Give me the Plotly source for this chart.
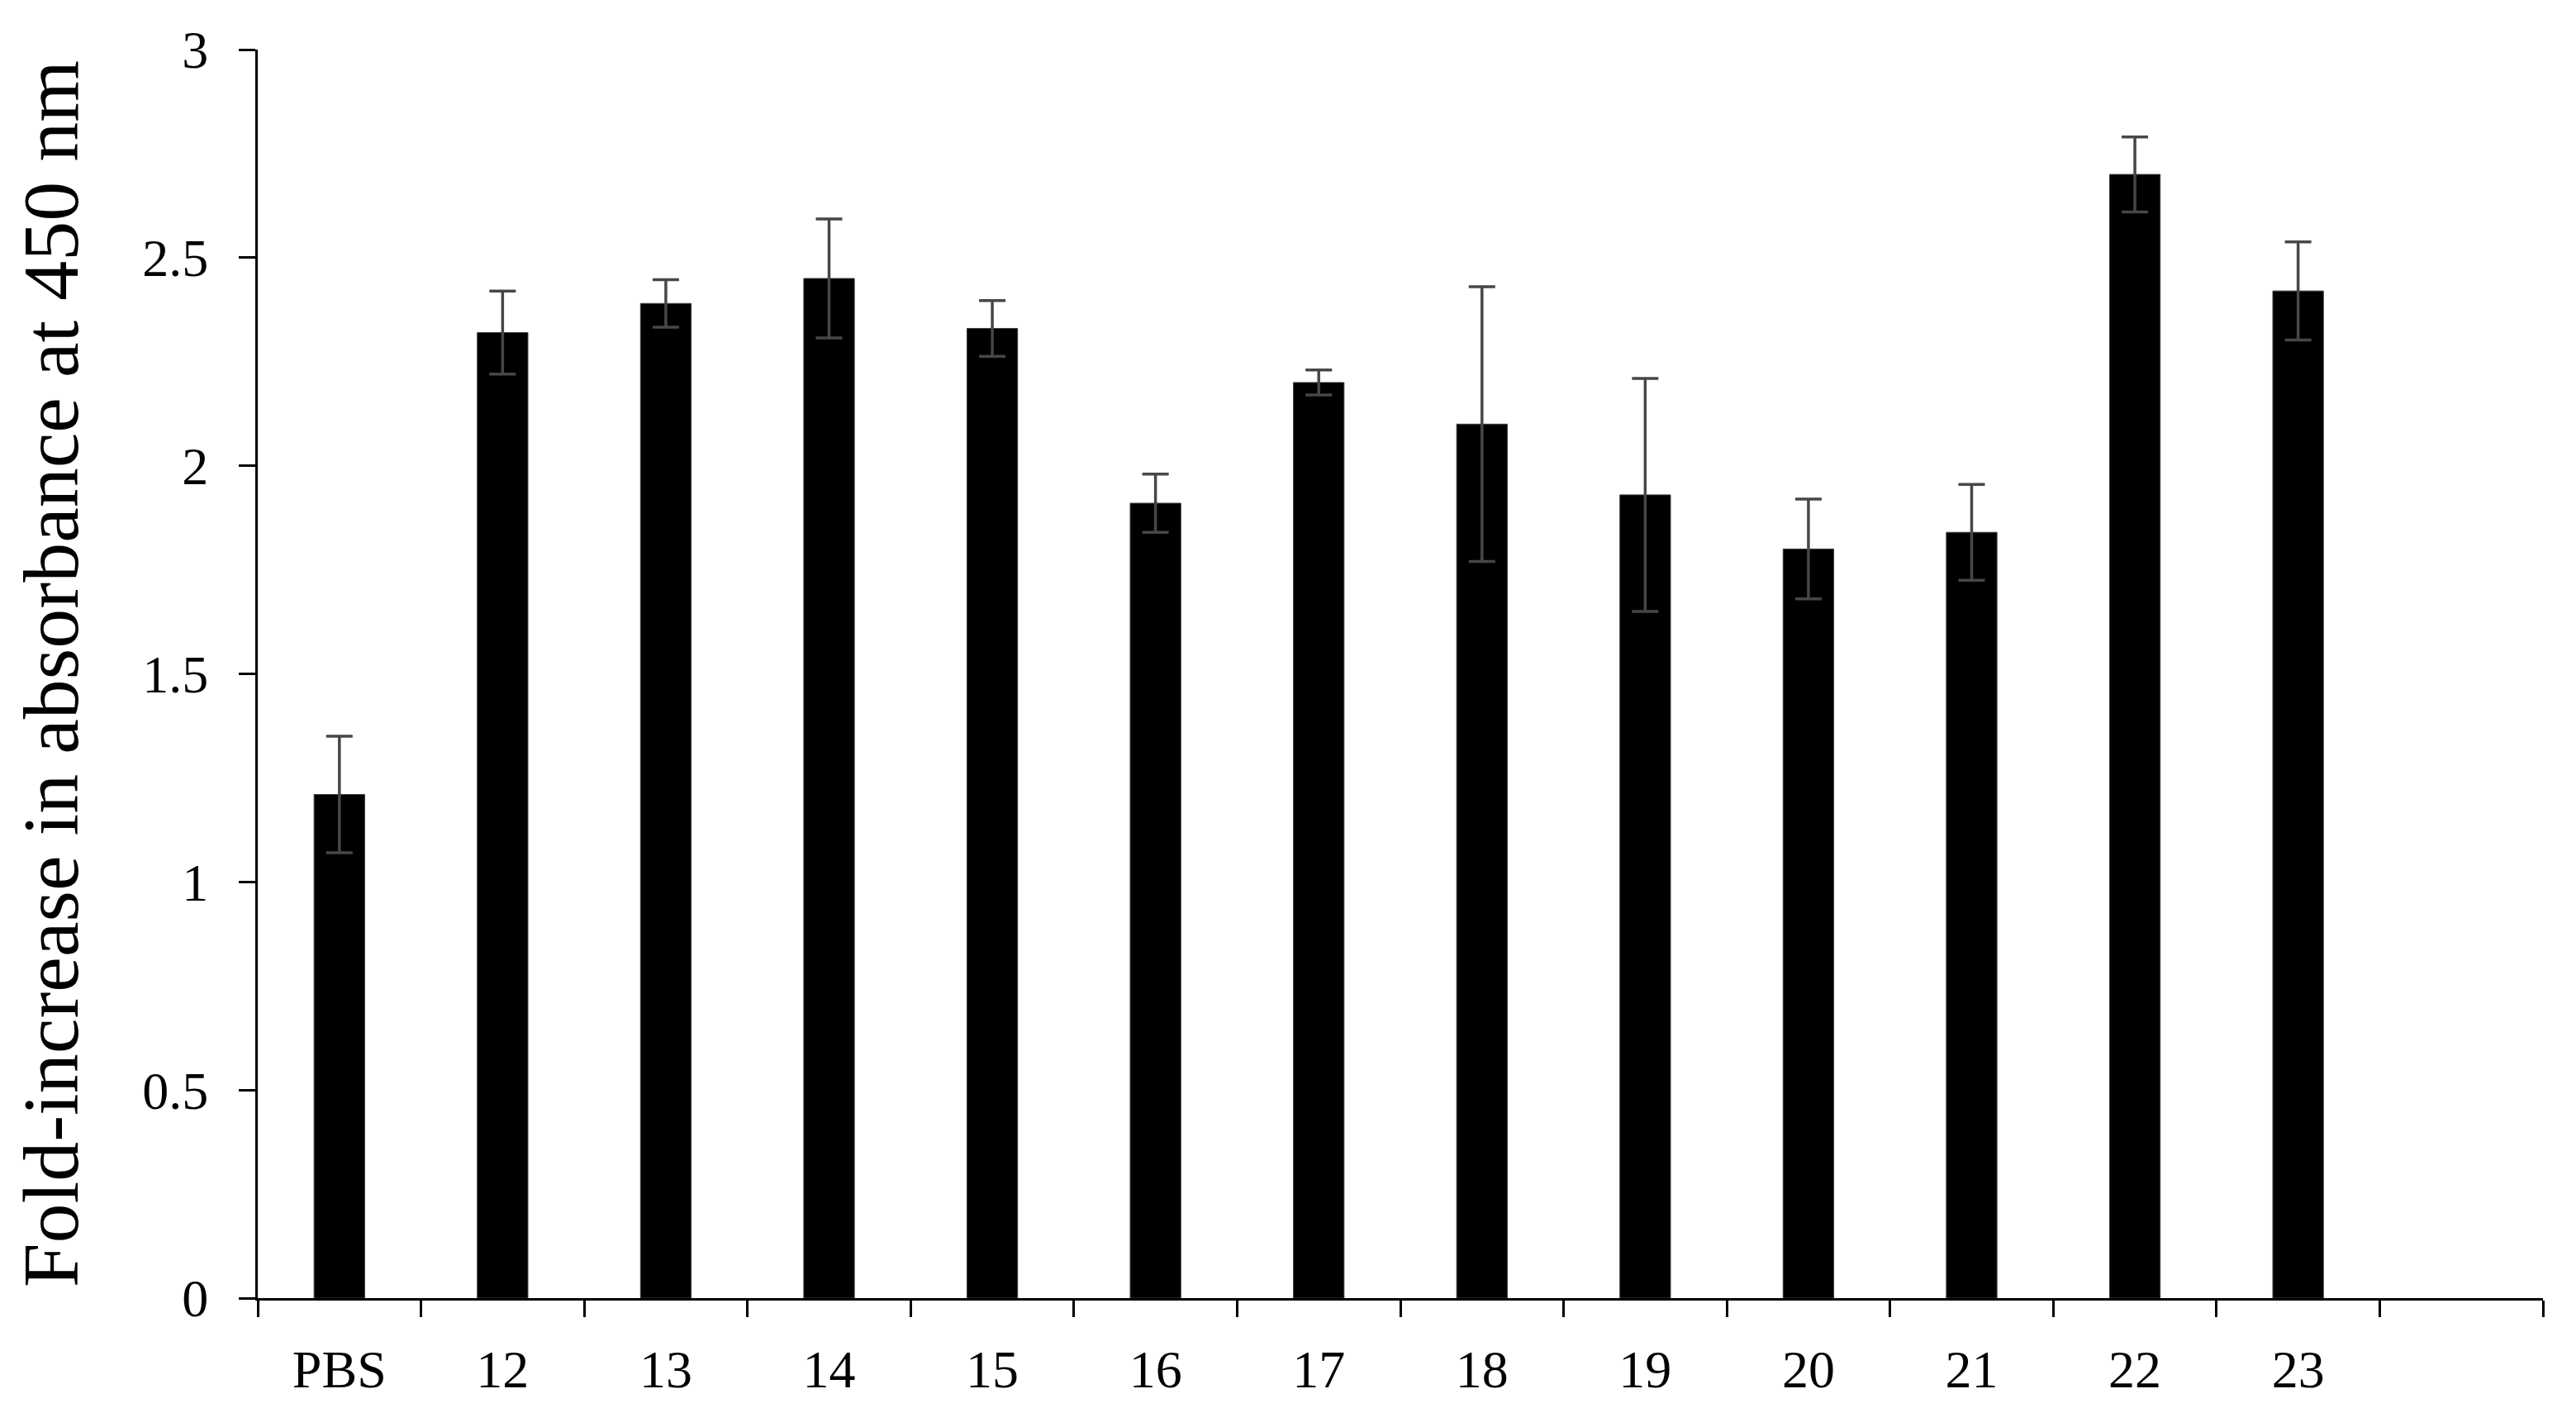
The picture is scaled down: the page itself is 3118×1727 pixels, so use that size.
import plotly.graph_objects as go

categories = ["PBS", "12", "13", "14", "15", "16", "17", "18", "19", "20", "21", "22", "23"]
slots = categories + [" "]
values = [1.21, 2.32, 2.39, 2.45, 2.33, 1.91, 2.20, 2.10, 1.93, 1.80, 1.84, 2.70, 2.42]
errors = [0.14, 0.10, 0.057, 0.143, 0.067, 0.07, 0.03, 0.33, 0.28, 0.12, 0.115, 0.09, 0.118]
y_ticks = [0, 0.5, 1, 1.5, 2, 2.5, 3]

FONT = "Liberation Serif"

fig = go.Figure()
fig.add_trace(go.Bar(
    x=categories,
    y=values,
    marker=dict(color="#000000", line=dict(color="#3a3a3a", width=1)),
    error_y=dict(type="data", array=errors, visible=True,
                 color="#474747", thickness=3.5, width=16),
    showlegend=False,
))

fig.update_layout(
    width=3110, height=1719,
    paper_bgcolor="white", plot_bgcolor="white",
    margin=dict(l=304, r=40, t=52, b=156),
    bargap=0.69,
    font=dict(family=FONT, color="black", size=64),
)

fig.update_xaxes(
    type="category", categoryorder="array", categoryarray=slots,
    range=[-0.5, len(slots) - 0.5],
    tickson="boundaries", ticks="outside", ticklen=20, tickwidth=3, tickcolor="black",
    showline=True, linewidth=3, linecolor="black", showgrid=False, zeroline=False,
    tickfont=dict(family=FONT, size=64, color="black"),
    ticklabelstandoff=28,
)
fig.update_yaxes(
    range=[0, 3], tickvals=y_ticks, ticktext=[f"{v:g}" for v in y_ticks],
    ticks="outside", ticklen=20, tickwidth=3, tickcolor="black",
    showline=True, linewidth=3, linecolor="black", showgrid=False, zeroline=False,
    tickfont=dict(family=FONT, size=64, color="black"),
    ticklabelstandoff=24,
    title=dict(text="Fold-increase in absorbance at 450 nm",
               font=dict(family=FONT, size=96, color="black"), standoff=46),
)

fig.write_html("out.html")
